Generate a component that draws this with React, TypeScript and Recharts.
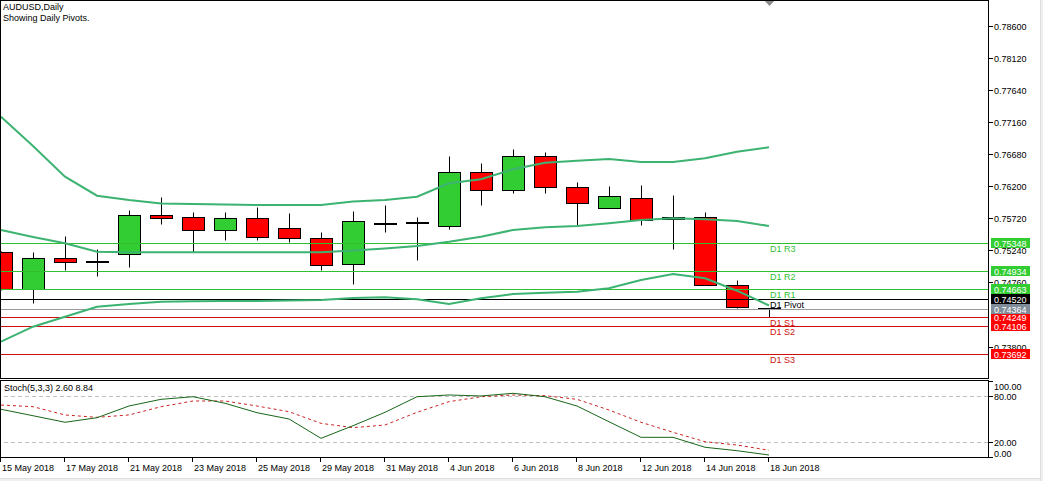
import React from 'react';
import { ComposedChart, Bar, Line, XAxis, YAxis, ReferenceLine, ReferenceDot } from 'recharts';

// ---------- data ----------
const dates = [
  '15 May 2018', '16 May 2018', '17 May 2018', '18 May 2018', '21 May 2018', '22 May 2018', '23 May 2018',
  '24 May 2018', '25 May 2018', '28 May 2018', '29 May 2018', '30 May 2018', '31 May 2018', '1 Jun 2018',
  '4 Jun 2018', '5 Jun 2018', '6 Jun 2018', '7 Jun 2018', '8 Jun 2018', '11 Jun 2018', '12 Jun 2018',
  '13 Jun 2018', '14 Jun 2018', '15 Jun 2018', '18 Jun 2018',
];
const opens = [0.75211, 0.74663, 0.75122, 0.75066, 0.75182, 0.75765, 0.75735, 0.7554, 0.7572, 0.7557, 0.75421, 0.75032, 0.75639, 0.75654, 0.756, 0.76408, 0.76139, 0.76647, 0.76183, 0.75869, 0.76019, 0.75705, 0.75735, 0.74718, 0.74364];
const highs = [0.7523, 0.75211, 0.75455, 0.75256, 0.75844, 0.76038, 0.75814, 0.75814, 0.75889, 0.75799, 0.75511, 0.75829, 0.75919, 0.75735, 0.76656, 0.76547, 0.76756, 0.76707, 0.76263, 0.76203, 0.76218, 0.76068, 0.75814, 0.74791, 0.7437];
const lows = [0.7465, 0.74449, 0.74947, 0.74862, 0.74996, 0.75635, 0.75216, 0.75395, 0.75395, 0.7537, 0.74947, 0.74737, 0.75511, 0.75096, 0.75564, 0.75923, 0.76094, 0.76103, 0.75615, 0.75869, 0.75624, 0.75265, 0.74718, 0.74377, 0.74248];
const closes = [0.74663, 0.75122, 0.75062, 0.75066, 0.75765, 0.7572, 0.7554, 0.7572, 0.75445, 0.75421, 0.75017, 0.75675, 0.75639, 0.75654, 0.76408, 0.76139, 0.76647, 0.76183, 0.75944, 0.76049, 0.7569, 0.75735, 0.74718, 0.74392, 0.74364];

const upperBand = [0.77239, 0.76801, 0.76342, 0.76058, 0.75994, 0.75941, 0.75934, 0.75926, 0.75919, 0.75919, 0.75919, 0.75971, 0.75994, 0.76043, 0.76243, 0.76303, 0.76453, 0.76551, 0.76581, 0.76607, 0.76562, 0.76562, 0.76617, 0.76716, 0.76782];
const middleBand = [0.75545, 0.7544, 0.75346, 0.7522, 0.75211, 0.75211, 0.75211, 0.75211, 0.75211, 0.75211, 0.75211, 0.75238, 0.75268, 0.75306, 0.7537, 0.75445, 0.75545, 0.75585, 0.75605, 0.75645, 0.75694, 0.7572, 0.75705, 0.7568, 0.75605];
const lowerBand = [0.73875, 0.74099, 0.74248, 0.74398, 0.74438, 0.74473, 0.74479, 0.74483, 0.74483, 0.74491, 0.74498, 0.74528, 0.74539, 0.74509, 0.74438, 0.74524, 0.74588, 0.74607, 0.74622, 0.74673, 0.74797, 0.74887, 0.74823, 0.74637, 0.74416];

const stochMain = [62.8, 54.3, 45.7, 51.7, 67.1, 75.9, 79.3, 70.7, 58.3, 50.0, 24.6, 41.2, 58.8, 79.3, 81.6, 80.3, 83.8, 79.3, 67.1, 46.4, 25.9, 25.9, 12.8, 8.3, 2.6];
const stochSignal = [68.4, 66.2, 55.3, 52.2, 55.3, 66.2, 73.7, 73.7, 67.1, 59.6, 44.3, 38.6, 42.1, 58.8, 72.8, 79.3, 81.6, 80.7, 75.9, 61.8, 45.7, 32.5, 20.1, 15.8, 8.84];

const pivotNames = ['D1 R3', 'D1 R2', 'D1 R1', 'D1 Pivot', 'D1 S1', 'D1 S2', 'D1 S3'];
const pivotValues = [0.75348, 0.74934, 0.74663, 0.7452, 0.74249, 0.74106, 0.73692];
const bidPrice = 0.74364;

const priceTicks = [0.786, 0.7812, 0.7764, 0.7716, 0.7668, 0.762, 0.7572, 0.7524, 0.7476, 0.738];
const stochTicks = [100, 80, 20, 0];
const stochLevels = [80, 20];
const dateTickIdx = [0, 2, 4, 6, 8, 10, 12, 14, 16, 18, 20, 22, 24];

// ---------- layout / style ----------
const W = 1043;
const AXIS_W = 55;
const MAIN_H = 378;
const STOCH_TOP = 381;
const STOCH_PLOT_H = 76;
const X_DOMAIN: [number, number] = [-0.03125, 30.84375];
const PRICE_DOMAIN: [number, number] = [0.733316, 0.789843];
const FONT = "'Liberation Sans', Arial, sans-serif";

const mainData = dates.map((d, i) => ({
  i,
  date: d,
  open: opens[i],
  high: highs[i],
  low: lows[i],
  close: closes[i],
  range: [lows[i], highs[i]],
  upper: upperBand[i],
  middle: middleBand[i],
  lower: lowerBand[i],
}));
const stochData = dates.map((d, i) => ({ i, date: d, main: stochMain[i], signal: stochSignal[i] }));

const pivotColor = (name: string) =>
  name.includes('R') ? '#2fbf2f' : name.includes('S') ? '#d01010' : '#000000';
const pivotBoxColor = (name: string) =>
  name.includes('R') ? '#32cd32' : name.includes('S') ? '#ff0000' : '#000000';

const snap = (v: number) => Math.round(v) + 0.5;

const Candle = (props: any) => {
  const { x, y, width, height, payload } = props;
  if (!payload || x == null) return null;
  const { open, close, high, low } = payload;
  const top = Math.min(y, y + height);
  const h = Math.abs(height);
  const k = h / (high - low);
  const py = (v: number) => top + (high - v) * k;
  const col = Math.round(x + width / 2);
  const cx = col + 0.5;
  const yH = snap(py(high));
  const yL = snap(py(low));
  const yO = py(open);
  const yC = py(close);
  const bTop = snap(Math.min(yO, yC));
  const bBot = snap(Math.max(yO, yC));
  const up = close >= open;
  const doji = bBot - bTop < 1;
  return (
    <g>
      <line x1={cx} x2={cx} y1={yH} y2={bTop} stroke="#000" strokeWidth={1} />
      <line x1={cx} x2={cx} y1={bBot} y2={yL} stroke="#000" strokeWidth={1} />
      {doji ? (
        <rect x={col - 11} y={Math.round(yO) - 1} width={23} height={2} fill="#000" />
      ) : (
        <rect
          x={col - 10.5}
          y={bTop}
          width={22}
          height={bBot - bTop}
          fill={up ? '#32cd32' : '#ff0000'}
          stroke="#000"
          strokeWidth={1}
        />
      )}
    </g>
  );
};

const crisp = (color: string, dash?: string) => (p: any) => {
  const yy = snap(p.y1);
  return <line x1={p.x1} x2={p.x2} y1={yy} y2={yy} stroke={color} strokeWidth={1} strokeDasharray={dash} />;
};

const PriceTick = (props: any) => {
  const { x, y, payload } = props;
  const yy = snap(y);
  return (
    <g>
      <line x1={x} x2={x + 5} y1={yy} y2={yy} stroke="#000" />
      <text x={x + 6} y={yy + 3.5} fontSize={9} fontFamily={FONT} fill="#000">
        {Number(payload.value).toFixed(5)}
      </text>
    </g>
  );
};

const StochTick = (props: any) => {
  const { x, y, payload } = props;
  const v = Number(payload.value);
  const yy = snap(y);
  const ty = v === 100 ? yy + 8.5 : v === 0 ? yy - 1 : yy + 3.5;
  return (
    <g>
      <line x1={x} x2={x + 5} y1={yy} y2={yy} stroke="#000" />
      <text x={x + 6} y={ty} fontSize={9} fontFamily={FONT} fill="#000">
        {v.toFixed(2)}
      </text>
    </g>
  );
};

const DateTick = (props: any) => {
  const { x, y, payload } = props;
  const xx = snap(x) - 1;
  return (
    <g>
      <line x1={xx} x2={xx} y1={y} y2={y + 5} stroke="#000" />
      <text x={xx + 1.5} y={y + 14} fontSize={9} fontFamily={FONT} fill="#000">
        {dates[payload.value]}
      </text>
    </g>
  );
};

const makeBox = (text: string, color: string) => (p: any) => {
  const vb = p.viewBox || {};
  const yy = Math.round(vb.y);
  const bx = vb.x + vb.width + 3;
  return (
    <g>
      <rect x={bx} y={yy - 5} width={39} height={10} fill={color} />
      <text x={bx + 3} y={yy + 3.5} fontSize={9} fontFamily={FONT} fill="#fff">
        {text}
      </text>
    </g>
  );
};

const pivotText = (name: string, color: string) => (p: any) => (
  <text x={p.cx + 1} y={snap(p.cy) + 8.5} fontSize={9} fontFamily={FONT} fill={color}>
    {name}
  </text>
);

const ShiftMarker = (p: any) => (
  <polygon points={`${p.cx - 5},${p.cy} ${p.cx + 6},${p.cy} ${p.cx + 0.5},${p.cy + 6}`} fill="#8a8a8a" />
);

export default function App() {
  return (
    <div
      style={{
        position: 'absolute',
        left: 0,
        top: 0,
        width: W,
        height: 481,
        background: '#fff',
        overflow: 'hidden',
        fontFamily: FONT,
      }}
    >
      {/* main price panel */}
      <div style={{ position: 'absolute', left: 0, top: 0 }}>
        <ComposedChart width={W} height={MAIN_H} data={mainData} margin={{ top: 0, right: 0, bottom: 0, left: 0 }}>
          <XAxis dataKey="i" type="number" domain={X_DOMAIN} allowDataOverflow hide />
          <YAxis
            orientation="right"
            width={AXIS_W}
            domain={PRICE_DOMAIN}
            allowDataOverflow
            type="number"
            ticks={priceTicks}
            interval={0}
            tick={<PriceTick />}
            tickSize={0}
            tickMargin={0}
            tickLine={false}
            axisLine={false}
          />
          {pivotNames.map((n, k) => (
            <ReferenceLine key={n} y={pivotValues[k]} stroke={pivotColor(n)} shape={crisp(pivotColor(n))} />
          ))}
          <ReferenceLine y={bidPrice} stroke="#9a9a9a" shape={crisp('#9a9a9a')} />
          <Bar dataKey="range" barSize={22} shape={Candle} isAnimationActive={false} />
          <Line dataKey="upper" type="linear" stroke="#3cb371" strokeWidth={2} dot={false} isAnimationActive={false} />
          <Line dataKey="middle" type="linear" stroke="#3cb371" strokeWidth={2} dot={false} isAnimationActive={false} />
          <Line dataKey="lower" type="linear" stroke="#3cb371" strokeWidth={2} dot={false} isAnimationActive={false} />
          {pivotNames.map((n, k) => (
            <ReferenceDot key={'t' + n} x={24} y={pivotValues[k]} r={0} shape={pivotText(n, pivotColor(n))} />
          ))}
          <ReferenceDot x={24} y={PRICE_DOMAIN[1]} r={0} shape={ShiftMarker} />
        </ComposedChart>
      </div>

      {/* price boxes overlay */}
      <div style={{ position: 'absolute', left: 0, top: 0 }}>
        <ComposedChart width={W} height={MAIN_H} data={mainData} margin={{ top: 0, right: 0, bottom: 0, left: 0 }}>
          <XAxis dataKey="i" type="number" domain={X_DOMAIN} allowDataOverflow hide />
          <YAxis
            orientation="right"
            width={AXIS_W}
            domain={PRICE_DOMAIN}
            allowDataOverflow
            type="number"
            tick={false}
            tickLine={false}
            axisLine={false}
          />
          {pivotNames.map((n, k) => (
            <ReferenceLine
              key={'b' + n}
              y={pivotValues[k]}
              stroke="none"
              label={makeBox(pivotValues[k].toFixed(5), pivotBoxColor(n))}
            />
          ))}
          <ReferenceLine y={bidPrice} stroke="none" label={makeBox(bidPrice.toFixed(5), '#7f8c99')} />
        </ComposedChart>
      </div>

      {/* stochastic panel */}
      <div style={{ position: 'absolute', left: 0, top: STOCH_TOP }}>
        <ComposedChart
          width={W}
          height={STOCH_PLOT_H + 24}
          data={stochData}
          margin={{ top: 0, right: 0, bottom: 0, left: 0 }}
        >
          <XAxis
            dataKey="i"
            type="number"
            domain={X_DOMAIN}
            allowDataOverflow
            ticks={dateTickIdx}
            interval={0}
            height={24}
            tick={<DateTick />}
            tickSize={0}
            tickMargin={0}
            tickLine={false}
            axisLine={false}
          />
          <YAxis
            orientation="right"
            width={AXIS_W}
            domain={[0, 100]}
            type="number"
            ticks={stochTicks}
            interval={0}
            tick={<StochTick />}
            tickSize={0}
            tickMargin={0}
            tickLine={false}
            axisLine={false}
          />
          {stochLevels.map((lv) => (
            <ReferenceLine key={lv} y={lv} stroke="#c0c0c0" shape={crisp('#c0c0c0', '4 3')} />
          ))}
          <Line dataKey="signal" type="linear" stroke="#cc2222" strokeWidth={1} strokeDasharray="3 3" dot={false} isAnimationActive={false} />
          <Line dataKey="main" type="linear" stroke="#176617" strokeWidth={1} dot={false} isAnimationActive={false} />
        </ComposedChart>
      </div>

      {/* panel frames */}
      <div style={{ position: 'absolute', left: 0, top: 0, width: 989, height: 379, border: '1px solid #000', boxSizing: 'border-box', pointerEvents: 'none' }} />
      <div style={{ position: 'absolute', left: 0, top: 380, width: 989, height: 78, border: '1px solid #000', boxSizing: 'border-box', pointerEvents: 'none' }} />

      {/* titles */}
      <svg width={W} height={481} style={{ position: 'absolute', left: 0, top: 0, pointerEvents: 'none' }}>
        <text x={3} y={9.5} fontSize={9} fontFamily={FONT} fill="#000">AUDUSD,Daily</text>
        <text x={3} y={21} fontSize={9} fontFamily={FONT} fill="#000">Showing Daily Pivots.</text>
        <text x={4} y={391} fontSize={9} fontFamily={FONT} fill="#000">Stoch(5,3,3) 2.60 8.84</text>
      </svg>

      {/* window edges */}
      <div style={{ position: 'absolute', left: 0, top: 478, width: W, height: 3, background: '#f0f0f0', borderTop: '1px solid #dedede', boxSizing: 'border-box' }} />
      <div style={{ position: 'absolute', left: 1040, top: 0, width: 3, height: 481, background: '#f0f0f0', borderLeft: '1px solid #dedede', boxSizing: 'border-box' }} />
    </div>
  );
}
